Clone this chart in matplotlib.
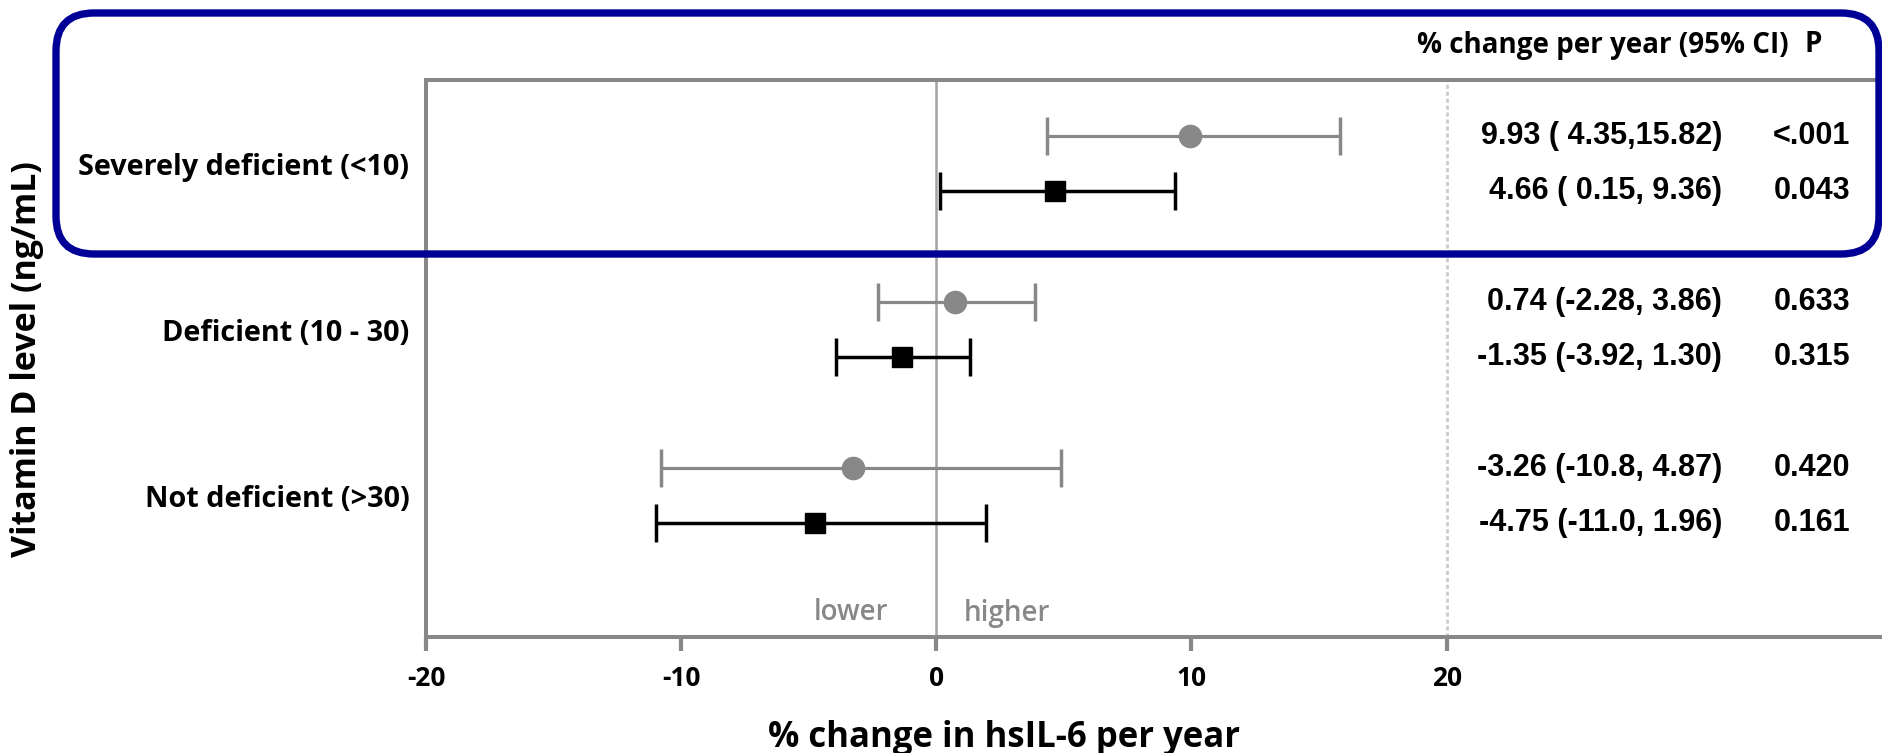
import matplotlib
matplotlib.use('Agg')
import matplotlib.pyplot as plt
from matplotlib.patches import FancyBboxPatch
from matplotlib.transforms import blended_transform_factory, IdentityTransform

plt.rcParams['font.family'] = ['Open Sans', 'DejaVu Sans']

# ---- data ----
categories = ["Severely deficient (<10)", "Deficient (10 - 30)", "Not deficient (>30)"]
grey_est = [9.93, 0.74, -3.26]
grey_lo = [4.35, -2.28, -10.8]
grey_hi = [15.82, 3.86, 4.87]
grey_p = ["<.001", "0.633", "0.420"]
black_est = [4.66, -1.35, -4.75]
black_lo = [0.15, -3.92, -11.0]
black_hi = [9.36, 1.30, 1.96]
black_p = ["0.043", "0.315", "0.161"]
xticks = [-20, -10, 0, 10, 20]
xlabel = "% change in hsIL-6 per year"
ylabel = "Vitamin D level (ng/mL)"
header = "% change per year (95% CI)"


def best5(v):
    s = f"{v:.2f}"
    if len(s) > 5:
        s = f"{v:.1f}"
    return s.rjust(5)


def ci_text(e, lo, hi):
    return f"{e:.2f} ({best5(lo)},{best5(hi)})"


W, H = 1883, 753
DPI = 100
fig = plt.figure(figsize=(W / DPI, H / DPI), dpi=DPI)
L, R, T, B = 426, 1883, 80, 637
ax = fig.add_axes([L / W, 1 - B / H, (R - L) / W, (B - T) / H])

GREY = '#888888'
off = 0.166
ypos = list(range(len(categories)))
yg = [y - off for y in ypos]
yb = [y + off for y in ypos]

ax.axvline(0, color='#a3a3a3', lw=1.8, zorder=1)
ax.axvline(20, color='#cccccc', lw=2.0, ls=(0, (1.5, 1.0)), zorder=1)

ax.errorbar(grey_est, yg,
            xerr=[[e - l for e, l in zip(grey_est, grey_lo)],
                  [h - e for e, h in zip(grey_est, grey_hi)]],
            fmt='o', color=GREY, ms=16, elinewidth=2.3, capsize=13.7,
            capthick=2.5, zorder=3)
ax.errorbar(black_est, yb,
            xerr=[[e - l for e, l in zip(black_est, black_lo)],
                  [h - e for e, h in zip(black_est, black_hi)]],
            fmt='s', color='black', ms=15, elinewidth=2.5, capsize=13.7,
            capthick=2.5, zorder=4)

ax.set_xlim(-20, 37.1)
ax.set_ylim(2.852, -0.503)
ax.set_xticks(xticks)
ax.set_xticklabels([str(t) for t in xticks], fontsize=19, fontweight='bold')
ax.set_yticks(ypos)
ax.set_yticklabels(categories, fontsize=20.8, fontweight='bold')
ax.tick_params(axis='y', length=0, pad=12)
ax.tick_params(axis='x', length=10, width=3, color=GREY, direction='out', pad=10)
for s in ['left', 'top', 'bottom']:
    ax.spines[s].set_color(GREY)
    ax.spines[s].set_linewidth(2.9)
ax.spines['right'].set_visible(False)

# right-hand table text
VF = dict(fontsize=22, fontweight='bold', family='Liberation Sans')
tr = blended_transform_factory(fig.transFigure, ax.transData)
for i in ypos:
    ax.text(1722 / W, yg[i], ci_text(grey_est[i], grey_lo[i], grey_hi[i]),
            transform=tr, ha='right', va='center', **VF)
    ax.text(1722 / W, yb[i], ci_text(black_est[i], black_lo[i], black_hi[i]),
            transform=tr, ha='right', va='center', **VF)
    ax.text(1850 / W, yg[i], grey_p[i], transform=tr, ha='right', va='center', **VF)
    ax.text(1850 / W, yb[i], black_p[i], transform=tr, ha='right', va='center', **VF)

fig.text(1789 / W, 1 - 45 / H, header, ha='right', va='center', fontsize=20,
         fontweight='bold')
fig.text(1805 / W, 1 - 45 / H, "P", ha='left', va='center', fontsize=20,
         fontweight='bold')

# lower / higher
tr2 = blended_transform_factory(ax.transData, fig.transFigure)
ax.text(-1.87, 1 - 613 / H, "lower", transform=tr2, ha='right', va='center',
        fontsize=20, color=GREY, fontweight='semibold')
ax.text(1.07, 1 - 613 / H, "higher", transform=tr2, ha='left', va='center',
        fontsize=20, color=GREY, fontweight='semibold')

fig.text(1004 / W, 1 - 738 / H, xlabel, ha='center', va='center', fontsize=25,
         fontweight='bold')
fig.text(27 / W, 1 - 359 / H, ylabel, ha='center', va='center', rotation=90,
         fontsize=24.5, fontweight='bold')

# highlight box
box = FancyBboxPatch((56, H - 254), 1879 - 56, 254 - 13,
                     boxstyle="round,pad=0,rounding_size=38",
                     transform=IdentityTransform(), fill=False,
                     edgecolor='#000096', lw=5.3, zorder=10)
fig.patches.append(box)

fig.savefig('out.png', dpi=DPI)
